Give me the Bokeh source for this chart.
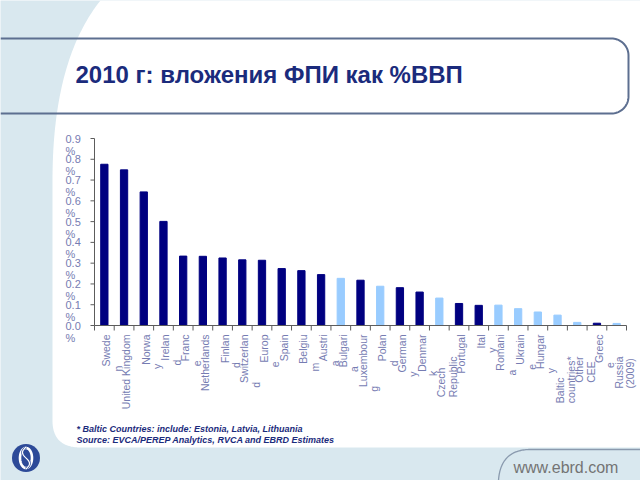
import numpy as np
from bokeh.plotting import figure
from bokeh.models import Range1d, ColumnDataSource
from bokeh.core.properties import value
from bokeh.embed import file_html
from bokeh.resources import INLINE

# ---------------- data ----------------
categories = ["Sweden", "United Kingdom", "Norway", "Ireland", "France", "Netherlands",
              "Finland", "Switzerland", "Europe", "Spain", "Belgium", "Austria",
              "Bulgaria", "Luxembourg", "Poland", "Germany", "Denmark", "Czech Republic",
              "Portugal", "Italy", "Romania", "Ukraine", "Hungary", "Baltic countries*",
              "Other CEE", "Greece", "Russia (2009)"]
# label text as wrapped in the original chart
label_lines = [("Swede", "n"), ("United Kingdom",), ("Norwa", "y"), ("Irelan", "d"),
               ("Franc", "e"), ("Netherlands",), ("Finlan", "d"), ("Switzerlan", "d"),
               ("Europ", "e"), ("Spain",), ("Belgiu", "m"), ("Austri", "a"),
               ("Bulgari", "a"), ("Luxembour", "g"), ("Polan", "d"), ("German", "y"),
               ("Denmar", "k"), ("Czech", "Republic"), ("Portugal",), ("Ital", "y"),
               ("Romani", "a"), ("Ukrain", "e"), ("Hungar", "y"), ("Baltic", "countries*"),
               ("Other", "CEE"), ("Greec", "e"), ("Russia", "(2009)")]
values = [0.776, 0.749, 0.643, 0.501, 0.334, 0.333, 0.325, 0.316, 0.314, 0.274,
          0.264, 0.245, 0.227, 0.218, 0.189, 0.182, 0.161, 0.132, 0.106, 0.097,
          0.098, 0.081, 0.065, 0.050, 0.015, 0.011, 0.010]
region = ["W", "W", "W", "W", "W", "W", "W", "W", "W", "W", "W", "W",
          "CEE", "W", "CEE", "W", "W", "CEE", "W", "W", "CEE", "CEE", "CEE", "CEE",
          "CEE", "W", "CEE"]
y_ticks = [0.0, 0.1, 0.2, 0.3, 0.4, 0.5, 0.6, 0.7, 0.8, 0.9]
y_tick_labels = ["0.0", "0.1", "0.2", "0.3", "0.4", "0.5", "0.6", "0.7", "0.8", "0.9"]
y_unit = "%"
title = "2010 г: вложения ФПИ как %ВВП"
foot1 = "* Baltic Countries: include: Estonia, Latvia, Lithuania"
foot2 = "Source: EVCA/PEREP Analytics, RVCA and EBRD Estimates"
site = "www.ebrd.com"

# ---------------- style ----------------
FONT = value("Liberation Sans")
BG = "#d9e8ef"
TITLE_C = "#1b2b7c"
LABEL_C = "#767cb2"
AXIS_C = "#5c5c5c"
DARK = "#000080"
LIGHT = "#99ccff"
BOX_C = "#5d6f90"

W, H = 640, 480
AX_L, AX_R, AX_B, AX_T = 94, 626, 325, 138
YMAX = 0.9
n = len(categories)
ppc = (AX_R - AX_L) / n          # pixels per category
ppv = (AX_B - AX_T) / YMAX       # pixels per value unit

p = figure(width=W, height=H, x_range=Range1d(0, W), y_range=Range1d(H, 0),
           x_axis_location=None, y_axis_location=None, toolbar_location=None,
           output_backend="svg", min_border=0)
p.extra_x_ranges = {"cat": Range1d(-0.5 - AX_L / ppc, n - 0.5 + (W - AX_R) / ppc)}
p.extra_y_ranges = {"val": Range1d(-(H - AX_B) / ppv, YMAX + AX_T / ppv)}
p.grid.visible = False
p.outline_line_color = None
p.background_fill_color = BG
p.border_fill_color = BG

# ---------------- slide decoration ----------------
t = np.linspace(0, 1, 40)
cx = (1 - t) ** 2 * 52 + 2 * t * (1 - t) * 52 + t ** 2 * 100
cy = (1 - t) ** 2 * 180 + 2 * t * (1 - t) * 60 + t ** 2 * 0
bx = (1 - t) ** 2 * 80 + 2 * t * (1 - t) * 52 + t ** 2 * 52
by = (1 - t) ** 2 * 447 + 2 * t * (1 - t) * 447 + t ** 2 * 420
wx = list(cx) + [640, 640] + list(bx)
wy = list(cy) + [0, 447] + list(by)
p.patch(wx, wy, fill_color="white", line_color=None)

# title box
r = 17
a1 = np.linspace(-np.pi / 2, 0, 20)
a2 = np.linspace(0, np.pi / 2, 20)
tx = [0, 628 - r] + list(628 - r + r * np.cos(a1)) + list(628 - r + r * np.cos(a2)) + [628 - r, 0]
ty = [38, 38] + list(38 + r + r * np.sin(a1)) + list(113 - r + r * np.sin(a2)) + [113, 113]
p.line(tx, ty, line_color=BOX_C, line_width=2)

p.text(x=[75], y=[74], text=[title], text_font=FONT, text_font_style="bold",
       text_font_size="24px", text_color=TITLE_C, text_baseline="middle")

# footnotes
p.text(x=[76, 76], y=[428.5, 439.5], text=[foot1, foot2], text_font=FONT,
       text_font_style="bold italic", text_font_size="9px", text_color=TITLE_C,
       text_baseline="middle")

# website box
sx = (1 - t) ** 2 * 498 + 2 * t * (1 - t) * 500 + t ** 2 * 530
sy = (1 - t) ** 2 * 480 + 2 * t * (1 - t) * 449 + t ** 2 * 449
p.line(list(sx) + [640], list(sy) + [449], line_color="#8a9aae", line_width=1.3)
p.text(x=[513], y=[467], text=[site], text_font=FONT, text_font_size="16px",
       text_color="#747474", text_baseline="middle")

# logo
p.circle(x=[25.5], y=[457.5], radius=14, fill_color="#2d4a98", line_color=None)
th = np.linspace(0, 2 * np.pi, 60)
p.line(25.5 + 6 * np.cos(th), 457.5 + 10 * np.sin(th), line_color="white", line_width=2.6)
sth = np.linspace(-1, 1, 30)
p.line(25.5 + 3.5 * np.sin(sth * np.pi), 457.5 + 11 * sth, line_color="#2d4a98", line_width=2.5)
p.line(25.5 + 3.5 * np.sin(sth * np.pi), 457.5 + 11 * sth, line_color="white", line_width=1.2)

# ---------------- chart ----------------
colors = [DARK if g == "W" else LIGHT for g in region]
src = ColumnDataSource(dict(x=list(range(n)), top=values, color=colors, name=categories))
p.vbar(x="x", top="top", width=0.37, color="color", source=src,
       x_range_name="cat", y_range_name="val")

# axes lines
p.segment(x0=[-0.5, -0.5], y0=[0, 0], x1=[-0.5, n - 0.5], y1=[YMAX, 0],
          line_color=AXIS_C, line_width=1, x_range_name="cat", y_range_name="val")
p.segment(x0=[-0.5] * len(y_ticks), y0=y_ticks, x1=[-0.5 - 4 / ppc] * len(y_ticks), y1=y_ticks,
          line_color=AXIS_C, line_width=1, x_range_name="cat", y_range_name="val")
xt = [i - 0.5 for i in range(n + 1)]
p.segment(x0=xt, y0=[0] * len(xt), x1=xt, y1=[-5 / ppv] * len(xt),
          line_color=AXIS_C, line_width=1, x_range_name="cat", y_range_name="val")

# y tick labels
p.text(x=[-0.5] * len(y_ticks), y=y_ticks, text=y_tick_labels, x_offset=-29,
       text_font=FONT, text_font_size="11px", text_color=LABEL_C,
       text_align="left", text_baseline="middle", x_range_name="cat", y_range_name="val")
p.text(x=[-0.5] * len(y_ticks), y=y_ticks, text=[y_unit] * len(y_ticks), x_offset=-29,
       y_offset=12, text_font=FONT, text_font_size="11px", text_color=LABEL_C,
       text_align="left", text_baseline="middle", x_range_name="cat", y_range_name="val")

# category labels (rotated, wrapped like the original)
AW = {' ': .278, '(': .333, ')': .333, '*': .389}
for c in "0123456789":
    AW[c] = .556
AW.update(dict(zip("abcdefghijklmnopqrstuvwxyz",
                   [.556, .556, .5, .556, .556, .278, .556, .556, .222, .222, .5, .222, .833,
                    .556, .556, .556, .556, .333, .5, .278, .556, .5, .722, .5, .5, .5])))
AW.update(dict(zip("ABCDEFGHIJKLMNOPQRSTUVWXYZ",
                   [.667, .667, .722, .722, .667, .611, .778, .722, .278, .5, .667, .556, .833,
                    .722, .778, .667, .778, .722, .667, .611, .722, .667, .944, .667, .667, .611])))
FS = 10.5


def tw(s):
    return sum(AW.get(ch, .556) for ch in s) * FS


LT = 9
right = dict(x=[], text=[], xo=[], yo=[])
left = dict(x=[], text=[], xo=[], yo=[])
for i, lines in enumerate(label_lines):
    if len(lines) == 1:
        right["x"].append(i); right["text"].append(lines[0]); right["xo"].append(2); right["yo"].append(LT)
    elif " " in categories[i] and categories[i].split(" ")[0] == lines[0]:
        bottom = LT + max(tw(s) for s in lines) + 22
        for k, s in enumerate(lines):
            left["x"].append(i); left["text"].append(s); left["xo"].append(2 + 11.5 * k); left["yo"].append(bottom)
    else:
        right["x"].append(i); right["text"].append(lines[0]); right["xo"].append(2); right["yo"].append(LT)
        right["x"].append(i); right["text"].append(lines[1]); right["xo"].append(13.5)
        right["yo"].append(LT + tw(lines[0]) - 1)

for d, al in ((right, "right"), (left, "left")):
    d["y"] = [0] * len(d["x"])
    s = ColumnDataSource(d)
    p.text(x="x", y="y", text="text", x_offset="xo", y_offset="yo", angle=np.pi / 2,
           source=s, text_font=FONT, text_font_size=f"{FS}px", text_color=LABEL_C,
           text_align=al, text_baseline="middle", x_range_name="cat", y_range_name="val")

open("out.html", "w").write(file_html(p, INLINE))
